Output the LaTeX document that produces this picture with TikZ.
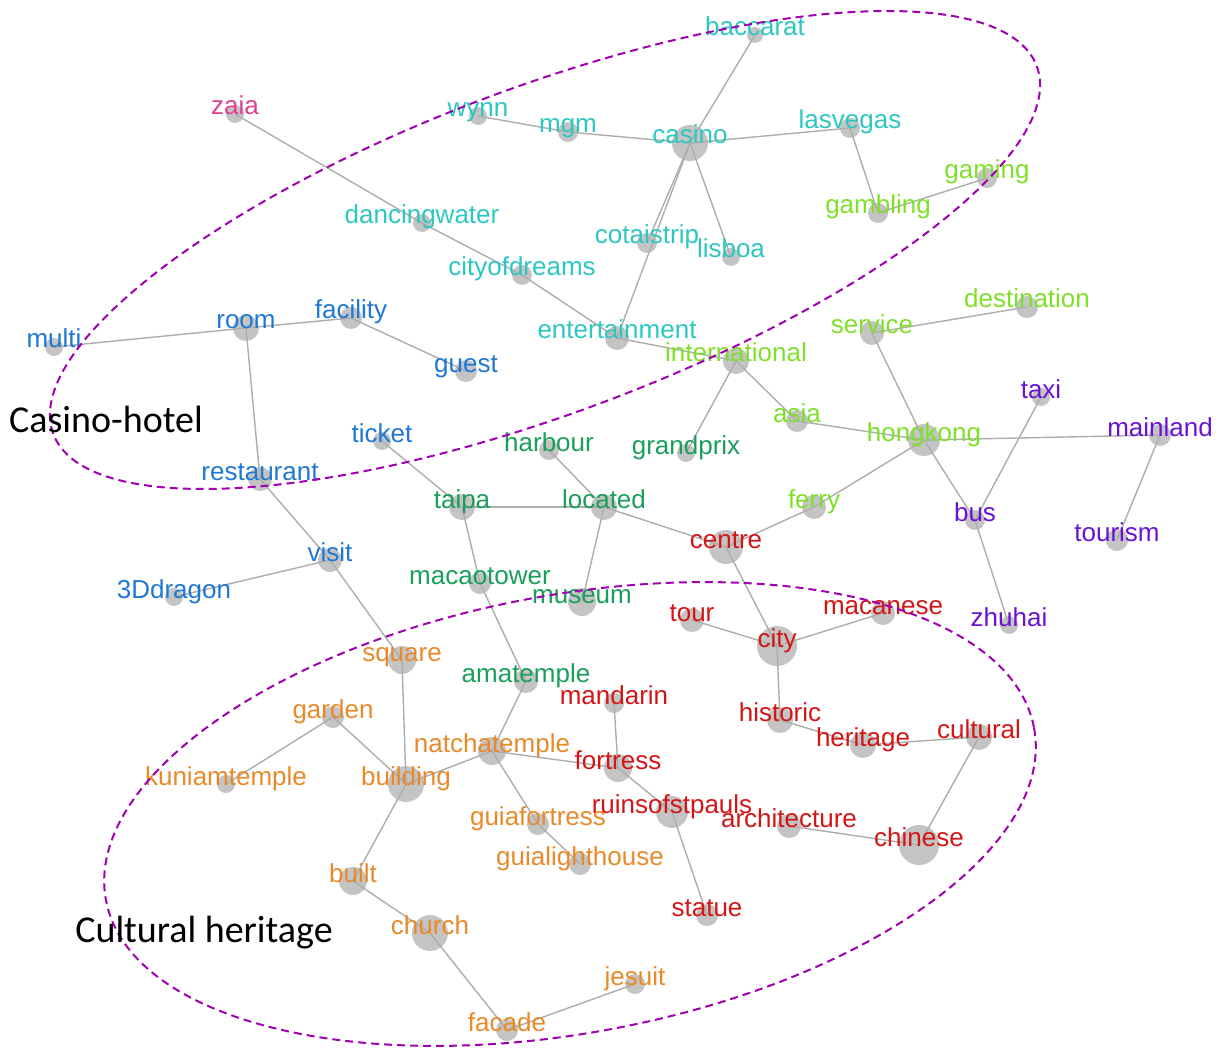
\documentclass[tikz,border=0pt]{standalone}
\usepackage{fontspec}
\setmainfont{Liberation Sans}
\newfontfamily\regionfont{Carlito}
\definecolor{cyanc}{HTML}{2CC7C1}
\definecolor{lgreen}{HTML}{7FE02A}
\definecolor{pinkc}{HTML}{E0408F}
\definecolor{bluec}{HTML}{1F78D1}
\definecolor{dgreen}{HTML}{1A9E5C}
\definecolor{purplec}{HTML}{6A12D4}
\definecolor{redc}{HTML}{D41515}
\definecolor{orangec}{HTML}{E8892A}
\definecolor{regpurple}{HTML}{A000B0}
\definecolor{nodegray}{HTML}{C4C4C4}
\definecolor{edgegray}{HTML}{ADADAD}
\tikzset{
  dot/.style={circle, fill=nodegray, draw=none, inner sep=0pt, minimum size=#1},
  edge/.style={draw=edgegray, line width=1.4pt},
  lbl/.style={anchor=base, inner sep=0pt, yshift=-1pt, font=\fontsize{26}{26}\selectfont},
  region/.style={draw=regpurple, line width=2pt, dash pattern=on 8pt off 5pt},
  regionlabel/.style={inner sep=0pt, text=black, font=\regionfont\fontsize{38}{38}\selectfont},
}
\begin{document}
\begin{tikzpicture}[x=1pt,y=-1pt]
\useasboundingbox (0,0) rectangle (1223,1048);
% circles
\node[dot=16] (baccarat) at (755,35) {};
\node[dot=18] (zaia) at (235,114) {};
\node[dot=18] (wynn) at (478,116) {};
\node[dot=20] (mgm) at (568,132) {};
\node[dot=36] (casino) at (690,143) {};
\node[dot=20] (lasvegas) at (850,128) {};
\node[dot=20] (gaming) at (987,178) {};
\node[dot=20] (gambling) at (878,213) {};
\node[dot=18] (dancingwater) at (422,223) {};
\node[dot=20] (cotaistrip) at (647,243) {};
\node[dot=18] (lisboa) at (731,257) {};
\node[dot=20] (cityofdreams) at (522,275) {};
\node[dot=22] (destination) at (1027,307) {};
\node[dot=22] (facility) at (351,318) {};
\node[dot=26] (room) at (246,328) {};
\node[dot=18] (multi) at (54,347) {};
\node[dot=24] (entertainment) at (617,338) {};
\node[dot=24] (service) at (872,333) {};
\node[dot=26] (international) at (736,361) {};
\node[dot=22] (guest) at (466,371) {};
\node[dot=18] (taxi) at (1041,397) {};
\node[dot=22] (asia) at (797,421) {};
\node[dot=32] (hongkong) at (924,440) {};
\node[dot=22] (mainland) at (1160,435) {};
\node[dot=18] (ticket) at (382,441) {};
\node[dot=20] (harbour) at (549,450) {};
\node[dot=18] (grandprix) at (686,453) {};
\node[dot=24] (restaurant) at (260,479) {};
\node[dot=26] (taipa) at (462,507) {};
\node[dot=26] (located) at (604,507) {};
\node[dot=24] (ferry) at (814,507) {};
\node[dot=20] (bus) at (975,520) {};
\node[dot=22] (tourism) at (1117,540) {};
\node[dot=34] (centre) at (726,547) {};
\node[dot=24] (visit) at (330,560) {};
\node[dot=22] (macaotower) at (480,583) {};
\node[dot=18] (dragon) at (174,597) {};
\node[dot=28] (museum) at (582,602) {};
\node[dot=24] (tour) at (692,620) {};
\node[dot=24] (macanese) at (883,613) {};
\node[dot=18] (zhuhai) at (1009,625) {};
\node[dot=40] (city) at (777,646) {};
\node[dot=28] (square) at (402,660) {};
\node[dot=24] (amatemple) at (526,681) {};
\node[dot=20] (mandarin) at (614,703) {};
\node[dot=22] (garden) at (333,717) {};
\node[dot=26] (historic) at (780,720) {};
\node[dot=26] (heritage) at (863,745) {};
\node[dot=26] (cultural) at (979,737) {};
\node[dot=28] (natchatemple) at (492,751) {};
\node[dot=28] (fortress) at (618,768) {};
\node[dot=18] (kuniamtemple) at (226,784) {};
\node[dot=36] (building) at (406,784) {};
\node[dot=22] (guiafortress) at (538,824) {};
\node[dot=32] (ruinsofstpauls) at (672,812) {};
\node[dot=24] (architecture) at (789,826) {};
\node[dot=40] (chinese) at (919,845) {};
\node[dot=22] (guialighthouse) at (580,864) {};
\node[dot=28] (built) at (353,881) {};
\node[dot=22] (statue) at (707,915) {};
\node[dot=36] (church) at (430,933) {};
\node[dot=20] (jesuit) at (635,984) {};
\node[dot=22] (facade) at (507,1030) {};
% edges
\foreach \a/\b in {zaia/dancingwater, dancingwater/cityofdreams, cityofdreams/entertainment,
  wynn/mgm, mgm/casino, casino/baccarat, casino/lasvegas, casino/lisboa, casino/cotaistrip,
  casino/entertainment, lasvegas/gambling, gambling/gaming, entertainment/international,
  international/grandprix, international/asia, asia/hongkong, service/destination,
  service/hongkong, hongkong/bus, taxi/bus, bus/zhuhai, hongkong/mainland, mainland/tourism,
  hongkong/ferry, ferry/centre, located/centre, harbour/located, taipa/located, located/museum,
  ticket/taipa, taipa/macaotower, macaotower/amatemple, amatemple/natchatemple,
  centre/city, tour/city, city/macanese, city/historic, historic/heritage, heritage/cultural,
  cultural/chinese, architecture/chinese, multi/room, room/facility, facility/guest,
  room/restaurant, restaurant/visit, visit/dragon, visit/square, square/building,
  garden/kuniamtemple, garden/building, building/natchatemple, building/built, built/church,
  church/facade, facade/jesuit, natchatemple/fortress, natchatemple/guiafortress,
  guiafortress/guialighthouse, mandarin/fortress, fortress/ruinsofstpauls, ruinsofstpauls/statue}
  \draw[edge] (\a.center) -- (\b.center);
% labels
\foreach \n/\c/\t in {baccarat/cyanc/baccarat, wynn/cyanc/wynn, mgm/cyanc/mgm, casino/cyanc/casino,
  lasvegas/cyanc/lasvegas, dancingwater/cyanc/dancingwater, cotaistrip/cyanc/cotaistrip,
  lisboa/cyanc/lisboa, cityofdreams/cyanc/cityofdreams, entertainment/cyanc/entertainment,
  zaia/pinkc/zaia,
  gaming/lgreen/gaming, gambling/lgreen/gambling, destination/lgreen/destination,
  service/lgreen/service, international/lgreen/international, asia/lgreen/asia,
  hongkong/lgreen/hongkong, ferry/lgreen/ferry,
  facility/bluec/facility, room/bluec/room, multi/bluec/multi, guest/bluec/guest,
  ticket/bluec/ticket, restaurant/bluec/restaurant, visit/bluec/visit, dragon/bluec/3Ddragon,
  harbour/dgreen/harbour, grandprix/dgreen/grandprix, taipa/dgreen/taipa, located/dgreen/located,
  macaotower/dgreen/macaotower, museum/dgreen/museum, amatemple/dgreen/amatemple,
  taxi/purplec/taxi, mainland/purplec/mainland, bus/purplec/bus, tourism/purplec/tourism,
  zhuhai/purplec/zhuhai,
  centre/redc/centre, tour/redc/tour, macanese/redc/macanese, city/redc/city,
  mandarin/redc/mandarin, historic/redc/historic, heritage/redc/heritage, cultural/redc/cultural,
  fortress/redc/fortress, ruinsofstpauls/redc/ruinsofstpauls, architecture/redc/architecture,
  chinese/redc/chinese, statue/redc/statue,
  square/orangec/square, garden/orangec/garden, natchatemple/orangec/natchatemple,
  kuniamtemple/orangec/kuniamtemple, building/orangec/building, guiafortress/orangec/guiafortress,
  guialighthouse/orangec/guialighthouse, built/orangec/built, church/orangec/church,
  jesuit/orangec/jesuit, facade/orangec/facade}
  \node[lbl, text=\c] (l-\n) at (\n.center) {\t};
% regions
\draw[region, rotate around={20.5:(545,250)}] (545,250) ellipse [x radius=525, y radius=163];
\draw[region, rotate around={10.5:(570,814)}] (570,814) ellipse [x radius=472, y radius=219];
\node[regionlabel] (r-casino) at (106,419) {Casino-hotel};
\node[regionlabel] (r-culture) at (204,933) {Cultural heritage};
\end{tikzpicture}
\end{document}
